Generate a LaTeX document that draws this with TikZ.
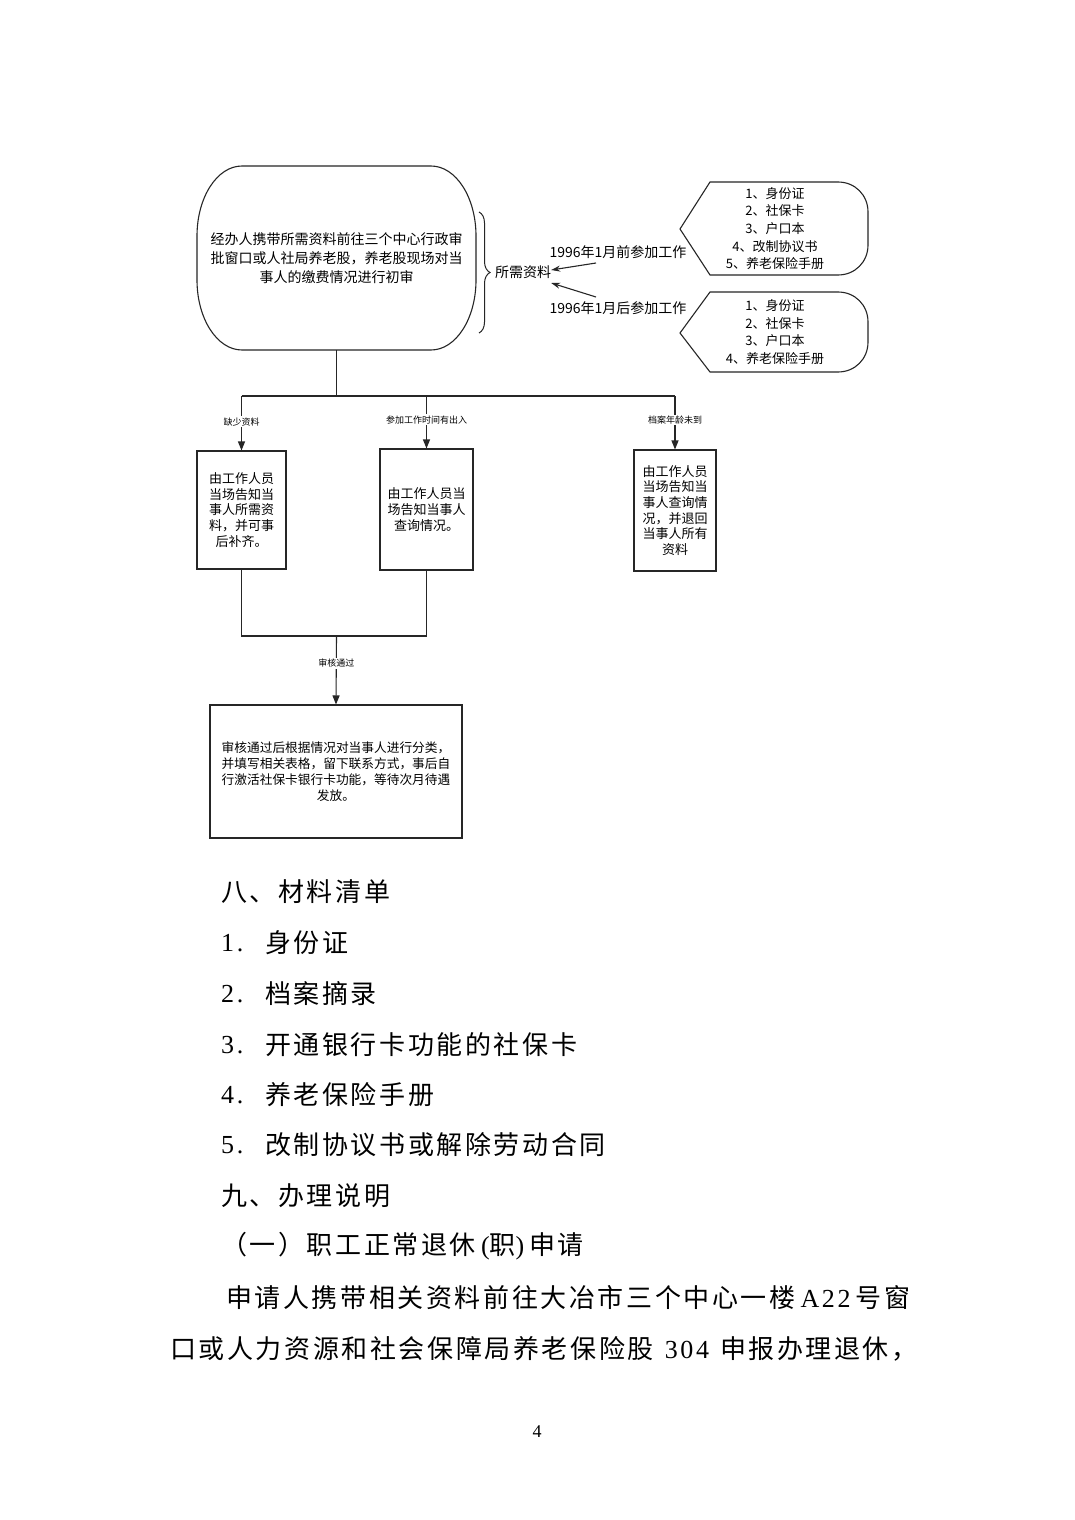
\documentclass[tikz,border=0pt]{standalone}
\usepackage{fontspec}
\setmainfont{Noto Sans CJK SC}
\newfontfamily\bodyfont[LetterSpace=10]{Noto Sans CJK SC}
\newfontfamily\bodylat[LetterSpace=10]{Liberation Serif}
\newfontfamily\numfont{Liberation Serif}
\usetikzlibrary{arrows.meta,decorations.pathreplacing}
\tikzset{
  ln/.style={line width=1.1pt, draw=black!85},
  arr/.style={ln, -{Triangle[length=9pt,width=7pt]}},
  sarr/.style={ln, -{Stealth[length=9pt,width=6pt]}},
  box/.style={ln, draw, align=center, inner sep=0pt},
  lbl/.style={fill=white, inner sep=1pt, font=\fontsize{9}{10}\selectfont},
  txt/.style={inner sep=0pt, align=center},
  body/.style={anchor=west, inner sep=0pt, font=\bodyfont\fontsize{26}{26}\selectfont},
}
\begin{document}
\begin{tikzpicture}[x=1pt,y=-1pt]
\fill[white] (0,0) rectangle (1074,1520);
\useasboundingbox (0,0) rectangle (1074,1520);

% start node
\node[txt, minimum width=279pt, minimum height=184pt,
      font=\fontsize{14}{19}\selectfont] (start) at (336.5,258)
  {经办人携带所需资料前往三个中心行政审\\批窗口或人社局养老股，养老股现场对当\\事人的缴费情况进行初审};
\draw[ln] (242,166) -- (431,166) .. controls (455.9,166) and (476,197.3) .. (476,236)
  -- (476,280) .. controls (476,318.7) and (455.9,350) .. (431,350)
  -- (242,350) .. controls (217.1,350) and (197,318.7) .. (197,280)
  -- (197,236) .. controls (197,197.3) and (217.1,166) .. (242,166) -- cycle;

% brace and required materials
\coordinate (brt) at (479,212);
\coordinate (brb) at (479,333);
\draw[ln, line width=1pt, decorate, decoration={brace, amplitude=11pt}] (brt) -- (brb);
\node[txt, font=\fontsize{14}{16}\selectfont] (need) at (523,272) {所需资料};

% labels
\node[txt, font=\fontsize{14}{16}\selectfont] (before) at (618,252) {1996年1月前参加工作};
\node[txt, font=\fontsize{14}{16}\selectfont] (after) at (618,308) {1996年1月后参加工作};

\coordinate (a1) at (596,263);
\coordinate (a2) at (596,297);
\draw[sarr] (a1) -- (need.east |- 0,270);
\draw[sarr] (a2) -- (need.east |- 0,283);

% list callouts
\node[txt, font=\fontsize{13}{17.7}\selectfont] (list1) at (775,228.5)
  {1、身份证\\2、社保卡\\3、户口本\\4、改制协议书\\5、养老保险手册};
\draw[ln] (680,229) -- (710,182) -- (838,182) .. controls (855,182) and (868,195) .. (868,212)
  -- (868,245) .. controls (868,262) and (855,275) .. (838,275) -- (710,275) -- cycle;

\node[txt, font=\fontsize{13}{17.7}\selectfont] (list2) at (775,332)
  {1、身份证\\2、社保卡\\3、户口本\\4、养老保险手册};
\draw[ln] (680,333) -- (710,292) -- (838,292) .. controls (855,292) and (868,305) .. (868,322)
  -- (868,342) .. controls (868,359) and (855,372) .. (838,372) -- (710,372) -- cycle;

% branch
\coordinate (jn) at (336.5,396);
\coordinate (jl) at (241.5,396);
\coordinate (jm) at (426.5,396);
\coordinate (jr) at (675,396);
\draw[ln] (start.south) -- (jn);
\draw[ln] (jl) -- (jr);

% three boxes
\node[box, minimum width=89pt, minimum height=118pt, font=\fontsize{13}{15.7}\selectfont] (b1) at (241.5,510)
  {由工作人员\\当场告知当\\事人所需资\\料，并可事\\后补齐。};
\node[box, minimum width=93pt, minimum height=121pt, font=\fontsize{13}{15.7}\selectfont] (b2) at (426.5,509.5)
  {由工作人员当\\场告知当事人\\查询情况。};
\node[box, minimum width=82pt, minimum height=121pt, font=\fontsize{13}{15.7}\selectfont] (b3) at (675,510.5)
  {由工作人员\\当场告知当\\事人查询情\\况，并退回\\当事人所有\\资料};

\draw[arr] (jl) -- node[lbl, pos=0.47] {缺少资料} (b1.north);
\draw[arr] (jm) -- node[lbl, pos=0.45] {参加工作时间有出入} (b2.north);
\draw[arr] (jr) -- node[lbl, pos=0.45] {档案年龄未到} (b3.north);

% merge
\coordinate (ml) at (241.5,636);
\coordinate (mr) at (426.5,636);
\coordinate (mm) at (336.5,636);
\draw[ln] (b1.south) -- (ml) -- (mr) -- (b2.south);

\node[box, minimum width=252pt, minimum height=133pt, font=\fontsize{12.7}{16}\selectfont] (fin) at (336,771.5)
  {审核通过后根据情况对当事人进行分类，\\并填写相关表格，留下联系方式，事后自\\行激活社保卡银行卡功能，等待次月待遇\\发放。};
\draw[arr] (mm) -- node[lbl, pos=0.4] {审核通过} (fin.north);

% body text
\node[body] (h8) at (221,892) {八、材料清单};
\node[body] (n1) at (221,943) {\bodylat 1.};
\node[body] (t1) at (265,943) {身份证};
\node[body] (n2) at (221,994) {\bodylat 2.};
\node[body] (t2) at (265,994) {档案摘录};
\node[body] (n3) at (221,1045) {\bodylat 3.};
\node[body] (t3) at (265,1045) {开通银行卡功能的社保卡};
\node[body] (n4) at (221,1095) {\bodylat 4.};
\node[body] (t4) at (265,1095) {养老保险手册};
\node[body] (n5) at (221,1145) {\bodylat 5.};
\node[body] (t5) at (265,1145) {改制协议书或解除劳动合同};
\node[body] (h9) at (221,1196) {九、办理说明};
\node[body] (s1) at (221,1246) {（一）职工正常退休\hspace{5pt}{\bodylat (}职{\bodylat )}\hspace{5pt}申请};
\node[body] (p1) at (226,1298) {申请人携带相关资料前往大冶市三个中心一楼\hspace{5pt}{\bodylat A22}\hspace{5pt}号窗};
\node[body] (p2) at (170,1349) {口或人力资源和社会保障局养老保险股\hspace{11pt}{\bodylat 304}\hspace{11pt}申报办理退休，};

\node[inner sep=0pt, font=\numfont\fontsize{18}{18}\selectfont] (pg) at (537,1432) {4};
\end{tikzpicture}
\end{document}
